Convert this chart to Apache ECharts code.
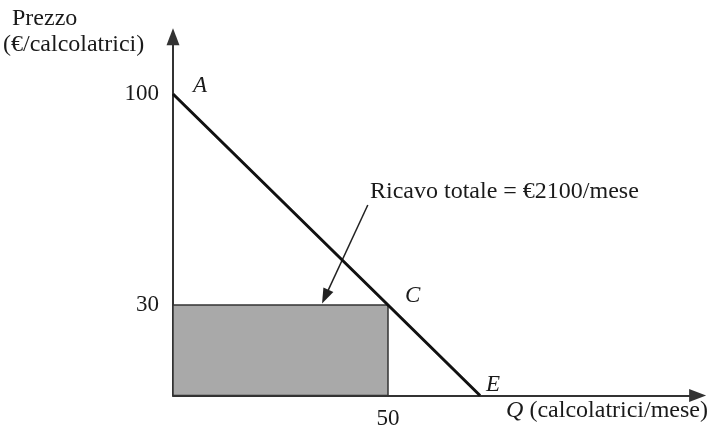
<!DOCTYPE html>
<html>
<head>
<meta charset="utf-8">
<script src="https://cdn.jsdelivr.net/npm/echarts@6/dist/echarts.min.js"></script>
<style>
  html, body { margin: 0; padding: 0; background: #fff; }
  #chart { width: 710px; height: 434px; }
</style>
</head>
<body>
<div id="chart"></div>
<script>
// Demand curve: price (€) against quantity (calculators per month)
const demandQ = [0, 50, 71.4];
const demandP = [100, 30, 0];
const pointNames = ['A', 'C', 'E'];

// Total revenue rectangle under point C
const revenueQ = 50;
const revenueP = 30;

// Tick labels shown on each axis
const xTicks = [50];
const yTicks = [30, 100];

// Callout arrow from the note down to the rectangle
const calloutFrom = [45.3, 63.2];
const calloutTo = [35.4, 32.8];
const calloutText = 'Ricavo totale = €2100/mese';

const yTitleTop = 'Prezzo';
const yTitleBottom = '(€/calcolatrici)';
const xTitleSymbol = 'Q';
const xTitleUnit = ' (calcolatrici/mese)';

const FONT = 'Liberation Serif';
const INK = '#1a1a1a';
const AXIS = '#333333';
const TITLE_FONT = '24px "Liberation Serif"';

// Placement of the point letters next to the curve
const letterOffset = { A: [15, -8], C: [12, -9], E: [1, -11] };

const demandData = demandQ.map((q, i) => ({
  name: pointNames[i],
  value: [q, demandP[i]],
  label: { offset: letterOffset[pointNames[i]] }
}));

const axisLineStyle = {
  show: true,
  lineStyle: { color: AXIS, width: 2 },
  symbol: ['none', 'triangle'],
  symbolSize: [13, 17]
};

const tickFont = { fontFamily: FONT, fontSize: 23, color: INK };

const chart = echarts.init(document.getElementById('chart'), null, { renderer: 'canvas' });

chart.setOption({
  backgroundColor: '#ffffff',
  animation: false,
  grid: { left: 173, right: 12.4, top: 36.7, bottom: 38.5 },
  xAxis: {
    type: 'value',
    min: 0,
    max: 122,
    interval: 10,
    splitLine: { show: false },
    axisTick: { show: false },
    axisLine: axisLineStyle,
    axisLabel: Object.assign({
      margin: 12,
      showMaxLabel: false,
      formatter: v => (xTicks.includes(v) ? String(v) : '')
    }, tickFont)
  },
  yAxis: {
    type: 'value',
    min: 0,
    max: 119,
    interval: 10,
    splitLine: { show: false },
    axisTick: { show: false },
    axisLine: axisLineStyle,
    axisLabel: Object.assign({
      margin: 14,
      showMaxLabel: false,
      formatter: v => (yTicks.includes(v) ? String(v) : '')
    }, tickFont)
  },
  series: [
    {
      name: 'Domanda',
      type: 'line',
      data: demandData,
      symbol: 'circle',
      symbolSize: 0,
      showSymbol: true,
      z: 5,
      lineStyle: { color: '#111111', width: 3 },
      itemStyle: { color: '#111111' },
      label: {
        show: true,
        position: 'right',
        formatter: p => p.name,
        fontFamily: FONT,
        fontStyle: 'italic',
        fontSize: 23,
        color: INK
      },
      markArea: {
        silent: true,
        itemStyle: { color: '#a9a9a9', borderColor: AXIS, borderWidth: 1.5 },
        data: [[{ coord: [0, 0] }, { coord: [revenueQ, revenueP] }]]
      }
    },
    {
      name: 'Ricavo',
      type: 'line',
      data: [],
      z: 6,
      markLine: {
        silent: true,
        symbol: ['none', 'triangle'],
        symbolSize: [11, 15],
        lineStyle: { color: '#222222', width: 1.5, type: 'solid' },
        label: { show: false },
        data: [[{ coord: calloutFrom }, { coord: calloutTo }]]
      }
    }
  ],
  graphic: [
    {
      type: 'text', left: 12, top: 7,
      style: { text: yTitleTop, font: TITLE_FONT, fill: INK }
    },
    {
      type: 'text', left: 3, top: 33,
      style: { text: yTitleBottom, font: TITLE_FONT, fill: INK }
    },
    {
      type: 'text', left: 370, top: 180,
      style: { text: calloutText, font: TITLE_FONT, fill: INK }
    },
    {
      type: 'text', right: 2, top: 399,
      style: {
        text: '{q|' + xTitleSymbol + '}' + xTitleUnit,
        font: TITLE_FONT,
        fill: INK,
        rich: {
          q: { fontFamily: FONT, fontStyle: 'italic', fontSize: 24, fill: INK }
        }
      }
    }
  ]
});
</script>
</body>
</html>
